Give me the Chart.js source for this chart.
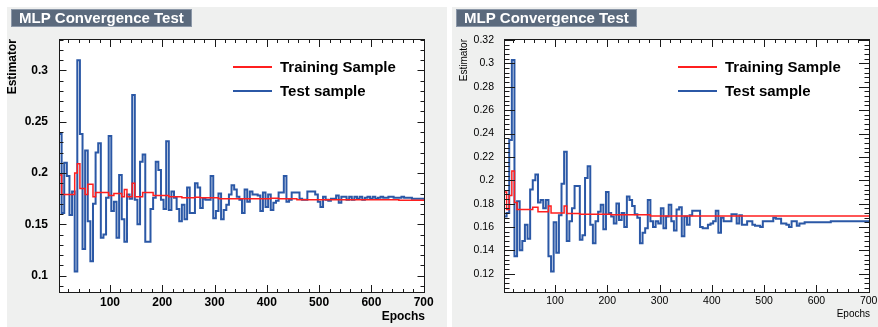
<!DOCTYPE html>
<html>
<head>
<meta charset="utf-8">
<script src="https://cdn.jsdelivr.net/npm/chart.js@4.4.1/dist/chart.umd.min.js"></script>
<style>
  html, body { margin: 0; padding: 0; background: #ffffff; }
  body { position: relative; width: 878px; height: 327px; overflow: hidden; }
  .pad { position: absolute; top: 7px; height: 320px; background: #eff0ef; }
  #padLeft { left: 7px; width: 440px; }
  #padRight { left: 452px; width: 426px; }
  .pad canvas { position: absolute; left: 0; top: 0; }
</style>
</head>
<body>
<div class="pad" id="padLeft"><canvas id="leftChart" width="440" height="320"></canvas></div>
<div class="pad" id="padRight"><canvas id="rightChart" width="426" height="320"></canvas></div>
<script>
// histogram binning: 140 bins of 5 epochs
const binLow = 2.5;
const binWidth = 5;

// left panel - estimator per bin
const leftTest = [
  0.238, 0.161, 0.210, 0.197, 0.159, 0.182, 0.104, 0.310, 0.238, 0.126,
  0.222, 0.153, 0.114, 0.170, 0.220, 0.229, 0.137, 0.140, 0.176, 0.236,
  0.163, 0.172, 0.137, 0.198, 0.155, 0.133, 0.179, 0.175, 0.276, 0.174,
  0.150, 0.211, 0.218, 0.133, 0.133, 0.165, 0.176, 0.211, 0.203, 0.174,
  0.165, 0.231, 0.164, 0.182, 0.176, 0.165, 0.153, 0.169, 0.155, 0.186,
  0.161, 0.161, 0.190, 0.186, 0.166, 0.175, 0.174, 0.174, 0.197, 0.156,
  0.163, 0.180, 0.155, 0.164, 0.169, 0.179, 0.188, 0.184, 0.177, 0.174,
  0.161, 0.184, 0.172, 0.182, 0.179, 0.179, 0.178, 0.163, 0.181, 0.167,
  0.179, 0.164, 0.171, 0.173, 0.181, 0.181, 0.197, 0.172, 0.174, 0.181,
  0.181, 0.181, 0.175, 0.174, 0.174, 0.182, 0.182, 0.182, 0.179, 0.172,
  0.167, 0.177, 0.174, 0.173, 0.175, 0.175, 0.178, 0.171, 0.177, 0.177,
  0.174, 0.177, 0.174, 0.177, 0.175, 0.177, 0.174, 0.176, 0.177, 0.175,
  0.177, 0.175, 0.176, 0.177, 0.176, 0.176, 0.177, 0.177, 0.176, 0.176,
  0.176, 0.177, 0.176, 0.176, 0.176, 0.175, 0.175, 0.175, 0.175, 0.175
];
const leftTrain = [
  0.198, 0.179, 0.179, 0.179, 0.179, 0.179, 0.200, 0.209, 0.185, 0.185,
  0.179, 0.189, 0.189, 0.177, 0.181, 0.181, 0.181, 0.181, 0.181, 0.178,
  0.178, 0.180, 0.180, 0.180, 0.177, 0.184, 0.177, 0.177, 0.190, 0.177,
  0.177, 0.177, 0.181, 0.181, 0.181, 0.181, 0.178, 0.178, 0.178, 0.178,
  0.178, 0.178, 0.177, 0.177, 0.177, 0.177, 0.177, 0.176, 0.176, 0.176,
  0.176, 0.176, 0.1765, 0.1765, 0.176, 0.176, 0.176, 0.176, 0.176, 0.176,
  0.176, 0.175, 0.175, 0.175, 0.175, 0.175, 0.175, 0.175, 0.175, 0.175,
  0.175, 0.175, 0.175, 0.175, 0.175, 0.175, 0.175, 0.175, 0.175, 0.175,
  0.175, 0.1755, 0.1755, 0.1755, 0.175, 0.175, 0.175, 0.175, 0.175, 0.175,
  0.175, 0.174, 0.174, 0.174, 0.174, 0.174, 0.174, 0.174, 0.174, 0.174,
  0.174, 0.174, 0.174, 0.174, 0.174, 0.174, 0.174, 0.174, 0.174, 0.174,
  0.174, 0.174, 0.174, 0.174, 0.174, 0.174, 0.174, 0.174, 0.174, 0.174,
  0.174, 0.174, 0.174, 0.174, 0.174, 0.174, 0.174, 0.174, 0.174, 0.174,
  0.1735, 0.1735, 0.1735, 0.1735, 0.1735, 0.1735, 0.1735, 0.1735, 0.1735, 0.1735
];

// right panel - estimator per bin
const rightTest = [
  0.169, 0.172, 0.2345, 0.303, 0.135, 0.182, 0.140, 0.148, 0.162, 0.150,
  0.192, 0.200, 0.205, 0.181, 0.183, 0.176, 0.183, 0.135, 0.122, 0.164,
  0.138, 0.170, 0.197, 0.2245, 0.148, 0.165, 0.176, 0.195, 0.195, 0.149,
  0.153, 0.202, 0.212, 0.162, 0.146, 0.165, 0.173, 0.179, 0.158, 0.190,
  0.172, 0.169, 0.163, 0.180, 0.166, 0.172, 0.160, 0.186, 0.183, 0.178,
  0.171, 0.168, 0.146, 0.155, 0.159, 0.183, 0.165, 0.160, 0.165, 0.163,
  0.176, 0.159, 0.169, 0.179, 0.165, 0.157, 0.175, 0.177, 0.152, 0.169,
  0.162, 0.170, 0.174, 0.174, 0.174, 0.160, 0.159, 0.159, 0.162, 0.163,
  0.165, 0.174, 0.155, 0.168, 0.165, 0.165, 0.165, 0.171, 0.171, 0.163,
  0.170, 0.162, 0.162, 0.165, 0.165, 0.162, 0.161, 0.161, 0.160, 0.165,
  0.165, 0.165, 0.165, 0.168, 0.167, 0.167, 0.163, 0.163, 0.162, 0.160,
  0.165, 0.165, 0.161, 0.163, 0.163, 0.164, 0.164, 0.164, 0.164, 0.164,
  0.164, 0.164, 0.164, 0.164, 0.164, 0.165, 0.165, 0.165, 0.165, 0.165,
  0.165, 0.165, 0.165, 0.165, 0.165, 0.165, 0.165, 0.165, 0.165, 0.165
];
const rightTrain = [
  0.190, 0.175, 0.187, 0.208, 0.181, 0.175, 0.175, 0.175, 0.175, 0.175,
  0.175, 0.177, 0.177, 0.173, 0.173, 0.173, 0.173, 0.178, 0.172, 0.172,
  0.172, 0.172, 0.172, 0.178, 0.1715, 0.1715, 0.1715, 0.1715, 0.1715, 0.171,
  0.171, 0.171, 0.171, 0.171, 0.171, 0.171, 0.171, 0.171, 0.171, 0.171,
  0.171, 0.1705, 0.1705, 0.1705, 0.1705, 0.1705, 0.1705, 0.1705, 0.1705, 0.1705,
  0.1705, 0.1705, 0.1705, 0.1705, 0.1705, 0.1705, 0.1695, 0.1695, 0.1695, 0.1695,
  0.1695, 0.1695, 0.1695, 0.1695, 0.1695, 0.1695, 0.1695, 0.1695, 0.1695, 0.1695,
  0.1695, 0.1695, 0.1695, 0.1695, 0.1695, 0.1695, 0.1695, 0.1695, 0.1695, 0.1695,
  0.1695, 0.1695, 0.1695, 0.1695, 0.1695, 0.1695, 0.1695, 0.1695, 0.1695, 0.1695,
  0.1695, 0.1695, 0.1695, 0.1695, 0.1695, 0.1695, 0.1695, 0.1695, 0.1695, 0.1695,
  0.1695, 0.1695, 0.1695, 0.1695, 0.1695, 0.1695, 0.1695, 0.1695, 0.1695, 0.1695,
  0.1695, 0.1695, 0.1695, 0.1695, 0.1695, 0.1695, 0.1695, 0.1695, 0.1695, 0.1695,
  0.1695, 0.1695, 0.1695, 0.1695, 0.1695, 0.1695, 0.1695, 0.1695, 0.1695, 0.1695,
  0.1695, 0.1695, 0.1695, 0.1695, 0.1695, 0.1695, 0.1695, 0.1695, 0.1695, 0.1695
];

// axis labels
const xTickValues = [100, 200, 300, 400, 500, 600, 700];
const leftYTicks = [0.1, 0.15, 0.2, 0.25, 0.3];
const rightYTicks = [0.12, 0.14, 0.16, 0.18, 0.2, 0.22, 0.24, 0.26, 0.28, 0.3, 0.32];
const chartTitle = 'MLP Convergence Test';
const seriesLabels = ['Training Sample', 'Test sample'];

// bins -> step points (last point closes the final bin)
function toSteps(values) {
  const pts = values.map((v, i) => ({ x: binLow + i * binWidth, y: v }));
  pts.push({ x: binLow + values.length * binWidth, y: values[values.length - 1] });
  return pts;
}

function stepsOf(lo, hi, step) {
  const out = [];
  for (let k = Math.ceil(lo / step - 1e-9); k * step <= hi + 1e-9; k++) out.push(k * step);
  return out;
}

// ROOT-like pad: white frame, ticks pointing inward on all sides, title box, legend
const rootPad = {
  id: 'rootPad',
  beforeDatasetsDraw(chart) {
    const { ctx, chartArea: a } = chart;
    ctx.save();
    ctx.fillStyle = '#ffffff';
    ctx.fillRect(a.left, a.top, a.right - a.left, a.bottom - a.top);
    ctx.restore();
  },
  afterDatasetsDraw(chart, args, o) {
    const { ctx, chartArea: a, scales: { x, y } } = chart;
    ctx.save();
    ctx.strokeStyle = '#1a1a1a';
    ctx.lineWidth = 1;
    ctx.beginPath();
    const xTick = (v, len) => {
      const px = Math.round(x.getPixelForValue(v)) + 0.5;
      ctx.moveTo(px, a.bottom); ctx.lineTo(px, a.bottom - len);
      ctx.moveTo(px, a.top); ctx.lineTo(px, a.top + len);
    };
    const yTick = (v, len) => {
      const py = Math.round(y.getPixelForValue(v)) + 0.5;
      ctx.moveTo(a.left, py); ctx.lineTo(a.left + len, py);
      ctx.moveTo(a.right, py); ctx.lineTo(a.right - len, py);
    };
    stepsOf(x.min, x.max, o.xMinorStep).forEach(v => xTick(v, o.xMinorLen));
    xTickValues.forEach(v => xTick(v, o.xMajorLen));
    stepsOf(y.min, y.max, o.yMinorStep).forEach(v => yTick(v, o.yMinorLen));
    o.yMajor.forEach(v => yTick(v, o.yMajorLen));
    ctx.stroke();
    ctx.strokeRect(a.left + 0.5, a.top + 0.5, a.right - a.left - 1, a.bottom - a.top - 1);
    ctx.restore();
  },
  afterDraw(chart) {
    const { ctx } = chart;
    ctx.save();
    // title pave
    ctx.fillStyle = '#5b6a7d';
    ctx.fillRect(4, 2, 181, 18);
    ctx.strokeStyle = '#8c98a8';
    ctx.lineWidth = 1;
    ctx.strokeRect(4.5, 2.5, 180, 17);
    ctx.fillStyle = '#ffffff';
    ctx.font = 'bold 15px "Liberation Sans", Arial, sans-serif';
    ctx.textBaseline = 'middle';
    ctx.fillText(chartTitle, 12, 11.5);
    // legend
    chart.data.datasets.forEach((ds, i) => {
      const ly = 60 + i * 24;
      ctx.strokeStyle = ds.borderColor;
      ctx.lineWidth = 2;
      ctx.beginPath();
      ctx.moveTo(226, ly); ctx.lineTo(265, ly);
      ctx.stroke();
      ctx.fillStyle = '#000000';
      ctx.fillText(ds.label, 273, ly + 1);
    });
    ctx.restore();
  }
};

function createPanel(id, cfg) {
  const ctx = document.getElementById(id).getContext('2d');
  return new Chart(ctx, {
    type: 'line',
    data: {
      datasets: [
        { label: seriesLabels[0], data: toSteps(cfg.train), borderColor: '#ff1f1f', borderWidth: 1.5,
          stepped: true, pointRadius: 0, fill: false, tension: 0 },
        { label: seriesLabels[1], data: toSteps(cfg.test), borderColor: '#2b58a6', borderWidth: 2,
          stepped: true, pointRadius: 0, fill: false, tension: 0 }
      ]
    },
    options: {
      responsive: false,
      animation: false,
      devicePixelRatio: 1,
      layout: { padding: { left: 0, right: cfg.padRight, top: 32, bottom: 0 } },
      plugins: {
        legend: { display: false },
        tooltip: { enabled: false },
        rootPad: cfg.ticks
      },
      scales: {
        x: {
          type: 'linear', min: 2.5, max: 702.5,
          grid: { display: false }, border: { display: false },
          afterBuildTicks: s => { s.ticks = xTickValues.map(v => ({ value: v })); },
          afterFit: s => { s.height = 34; s.paddingLeft = 0; s.paddingRight = 0; },
          ticks: { autoSkip: false, maxRotation: 0, padding: cfg.xTickPad, color: '#000', font: cfg.tickFont,
                   callback: v => String(v) },
          title: { display: true, text: 'Epochs', align: 'end', color: '#000', font: cfg.titleFont,
                   padding: { top: 0, bottom: cfg.xTitlePad } }
        },
        y: {
          type: 'linear', min: cfg.yMin, max: cfg.yMax,
          grid: { display: false }, border: { display: false },
          afterBuildTicks: s => { s.ticks = cfg.yTicks.map(v => ({ value: v })); },
          afterFit: s => { s.width = 52; s.paddingTop = 0; s.paddingBottom = 0; },
          ticks: { autoSkip: false, padding: cfg.yTickPad, color: '#000', font: cfg.tickFont,
                   callback: v => String(v) },
          title: { display: true, text: 'Estimator', align: 'end', color: '#000', font: cfg.titleFont,
                   padding: { top: cfg.yTitlePad, bottom: 0 } }
        }
      }
    },
    plugins: [rootPad]
  });
}

createPanel('leftChart', {
  train: leftTrain, test: leftTest,
  yMin: 0.0831, yMax: 0.3306, yTicks: leftYTicks, padRight: 22,
  tickFont: { family: 'Liberation Sans', size: 12, weight: 'bold' },
  titleFont: { family: 'Liberation Sans', size: 12, weight: 'bold', lineHeight: 1 },
  yTickPad: 3, xTickPad: -6, xTitlePad: 4, yTitlePad: 0,
  ticks: { yMajor: leftYTicks, xMinorStep: 20, yMinorStep: 0.01,
           xMajorLen: 8, xMinorLen: 4, yMajorLen: 7.5, yMinorLen: 4.5 }
});

createPanel('rightChart', {
  train: rightTrain, test: rightTest,
  yMin: 0.1035, yMax: 0.3209, yTicks: rightYTicks, padRight: 8,
  tickFont: { family: 'Liberation Sans', size: 10.5 },
  titleFont: { family: 'Liberation Sans', size: 10, lineHeight: 1 },
  yTickPad: 2, xTickPad: -6, xTitlePad: 8, yTitlePad: 7,
  ticks: { yMajor: rightYTicks, xMinorStep: 20, yMinorStep: 0.004,
           xMajorLen: 8, xMinorLen: 4, yMajorLen: 11, yMinorLen: 5.5 }
});
</script>
</body>
</html>
